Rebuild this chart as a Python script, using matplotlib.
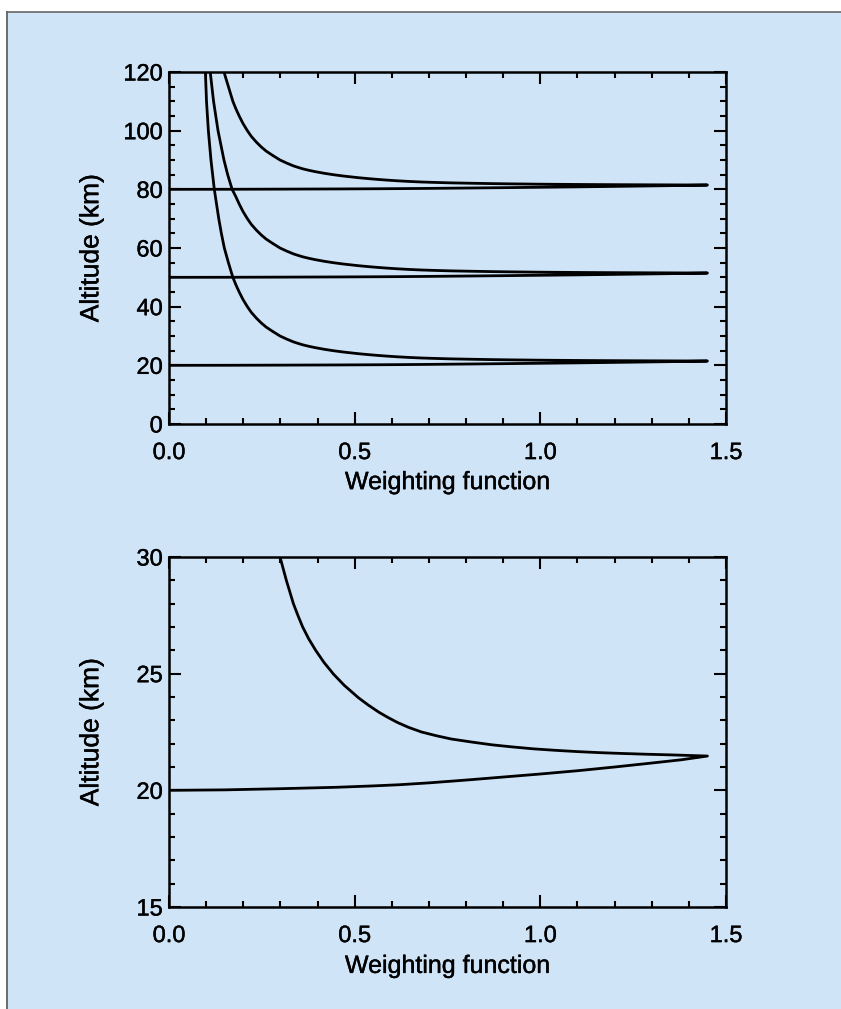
import matplotlib
matplotlib.use("Agg")
import matplotlib.pyplot as plt
import matplotlib.patheffects as pe
from matplotlib.ticker import MultipleLocator, FormatStrFormatter
from matplotlib.patches import Rectangle
from matplotlib.lines import Line2D

# ---- data (weighting function vs altitude) ----
# tangent altitude 20 km: lower branch (w rising to the tip) then upper branch
w_20 = [0.00, 0.15, 0.30, 0.45, 0.55, 0.62, 0.70, 0.80, 0.90, 1.00,
        1.10, 1.20, 1.30, 1.38, 1.45,
        1.40, 1.35, 1.28, 1.22, 1.16, 1.10, 1.04, 0.98, 0.925, 0.87,
        0.815, 0.76, 0.72, 0.68, 0.645, 0.615, 0.59, 0.565, 0.537, 0.51,
        0.472, 0.443, 0.417, 0.395, 0.376, 0.36, 0.347, 0.335, 0.316, 0.299,
        0.280, 0.262, 0.248, 0.236, 0.222, 0.211, 0.199, 0.189, 0.180, 0.172,
        0.160, 0.149, 0.141, 0.134, 0.128, 0.122, 0.113, 0.106, 0.101, 0.098]
z_20 = [20.00, 20.02, 20.07, 20.13, 20.19, 20.24, 20.32, 20.44, 20.57, 20.70,
        20.84, 21.00, 21.17, 21.31, 21.47,
        21.495, 21.52, 21.55, 21.58, 21.615, 21.66, 21.715, 21.78, 21.86, 21.95,
        22.07, 22.20, 22.34, 22.50, 22.70, 22.91, 23.12, 23.35, 23.65, 23.97,
        24.50, 24.98, 25.49, 26.00, 26.50, 27.00, 27.50, 28.00, 29.00, 30.00,
        31.5, 33.0, 34.5, 36.0, 38.0, 40.0, 42.5, 45.0, 47.5, 50.0,
        55.0, 60.0, 65.0, 70.0, 75.0, 80.0, 90.0, 100.0, 110.0, 120.0]

# tangent altitude 50 km
w_50 = [0.00, 0.15, 0.30, 0.45, 0.55, 0.62, 0.70, 0.80, 0.90, 1.00,
        1.10, 1.20, 1.30, 1.38, 1.45,
        1.40, 1.35, 1.28, 1.22, 1.16, 1.10, 1.04, 0.98, 0.925, 0.87,
        0.815, 0.76, 0.72, 0.68, 0.645, 0.615, 0.59, 0.565, 0.537, 0.51,
        0.472, 0.443, 0.417, 0.395, 0.376, 0.36, 0.347, 0.335, 0.316, 0.299,
        0.280, 0.262, 0.248, 0.236, 0.222, 0.211, 0.199, 0.189, 0.180, 0.170,
        0.158, 0.148, 0.140, 0.132, 0.126, 0.120, 0.111]
z_50 = [50.00, 50.02, 50.07, 50.13, 50.19, 50.24, 50.32, 50.44, 50.57, 50.70,
        50.84, 51.00, 51.17, 51.31, 51.47,
        51.495, 51.52, 51.55, 51.58, 51.615, 51.66, 51.715, 51.78, 51.86, 51.95,
        52.07, 52.20, 52.34, 52.50, 52.70, 52.91, 53.12, 53.35, 53.65, 53.97,
        54.50, 54.98, 55.49, 56.00, 56.50, 57.00, 57.50, 58.00, 59.00, 60.00,
        61.5, 63.0, 64.5, 66.0, 68.0, 70.0, 72.5, 75.0, 77.5, 80.0,
        85.0, 90.0, 95.0, 100.0, 105.0, 110.0, 120.0]

# tangent altitude 80 km
w_80 = [0.00, 0.15, 0.30, 0.45, 0.55, 0.62, 0.70, 0.80, 0.90, 1.00,
        1.10, 1.20, 1.30, 1.38, 1.45,
        1.40, 1.35, 1.28, 1.22, 1.16, 1.10, 1.04, 0.98, 0.925, 0.87,
        0.815, 0.76, 0.72, 0.68, 0.645, 0.615, 0.59, 0.565, 0.537, 0.51,
        0.472, 0.443, 0.417, 0.395, 0.376, 0.36, 0.347, 0.335, 0.316, 0.299,
        0.280, 0.262, 0.248, 0.236, 0.222, 0.211, 0.199, 0.189, 0.180, 0.172,
        0.160, 0.148]
z_80 = [80.00, 80.02, 80.07, 80.13, 80.19, 80.24, 80.32, 80.44, 80.57, 80.70,
        80.84, 81.00, 81.17, 81.31, 81.47,
        81.495, 81.52, 81.55, 81.58, 81.615, 81.66, 81.715, 81.78, 81.86, 81.95,
        82.07, 82.20, 82.34, 82.50, 82.70, 82.91, 83.12, 83.35, 83.65, 83.97,
        84.50, 84.98, 85.49, 86.00, 86.50, 87.00, 87.50, 88.00, 89.00, 90.00,
        91.5, 93.0, 94.5, 96.0, 98.0, 100.0, 102.5, 105.0, 107.5, 110.0,
        115.0, 120.0]

xlabel = "Weighting function"
ylabel = "Altitude (km)"

BG = "#d0e4f7"
FONT = "Liberation Sans"

plt.rcParams['font.family'] = [FONT, 'DejaVu Sans']

fig = plt.figure(figsize=(8.41, 10.09), dpi=100)
fig.patch.set_facecolor("white")
W, H = 841, 1009
# blue panel with a dark top/left border
fig.patches.append(Rectangle((7 / W, 0), 1 - 7 / W, 1 - 12 / H,
                             transform=fig.transFigure, facecolor=BG,
                             edgecolor="none", zorder=-10))
fig.lines.append(Line2D([7 / W, 7 / W], [0, 1 - 12 / H], transform=fig.transFigure,
                        color="#555555", lw=1.2))
fig.lines.append(Line2D([7 / W, 1], [1 - 12 / H, 1 - 12 / H], transform=fig.transFigure,
                        color="#666666", lw=1.2))

ax1 = fig.add_axes([169 / W, 1 - 424 / H, 557 / W, 352 / H])
ax2 = fig.add_axes([169 / W, 1 - 907 / H, 557 / W, 350 / H])

for w, z in [(w_20, z_20), (w_50, z_50), (w_80, z_80)]:
    ax1.plot(w, z, color="black", lw=2.0, solid_joinstyle="round")
ax2.plot(w_20, z_20, color="black", lw=2.0, solid_joinstyle="round")

ax1.set_xlim(0, 1.5)
ax1.set_ylim(0, 120)
ax1.yaxis.set_major_locator(MultipleLocator(20))
ax1.yaxis.set_minor_locator(MultipleLocator(5))

ax2.set_xlim(0, 1.5)
ax2.set_ylim(15, 30)
ax2.yaxis.set_major_locator(MultipleLocator(5))
ax2.yaxis.set_minor_locator(MultipleLocator(1))

thick = [pe.withStroke(linewidth=0.3, foreground="black")]

for ax in (ax1, ax2):
    ax.set_facecolor("none")
    ax.xaxis.set_major_locator(MultipleLocator(0.5))
    ax.xaxis.set_minor_locator(MultipleLocator(0.1))
    ax.xaxis.set_major_formatter(FormatStrFormatter("%.1f"))
    ax.tick_params(which="both", direction="in", top=True, right=True,
                   width=1.5, colors="black", labelsize=17)
    ax.tick_params(which="major", length=8.5)
    ax.tick_params(which="minor", length=4.5)
    ax.tick_params(axis="x", which="major", pad=13)
    ax.tick_params(axis="y", which="major", pad=4.5)
    for s in ax.spines.values():
        s.set_linewidth(1.8)
    ax.set_xlabel(xlabel, fontsize=18, path_effects=thick)
    ax.set_ylabel(ylabel, fontsize=19, path_effects=thick)
    ax.yaxis.set_label_coords(-0.118, 0.5)
    for lab in ax.get_xticklabels() + ax.get_yticklabels():
        lab.set_path_effects(thick)

ax1.xaxis.set_label_coords(0.5, -0.131)
ax2.xaxis.set_label_coords(0.5, -0.134)

fig.savefig("out.png", dpi=100, facecolor=fig.get_facecolor())
